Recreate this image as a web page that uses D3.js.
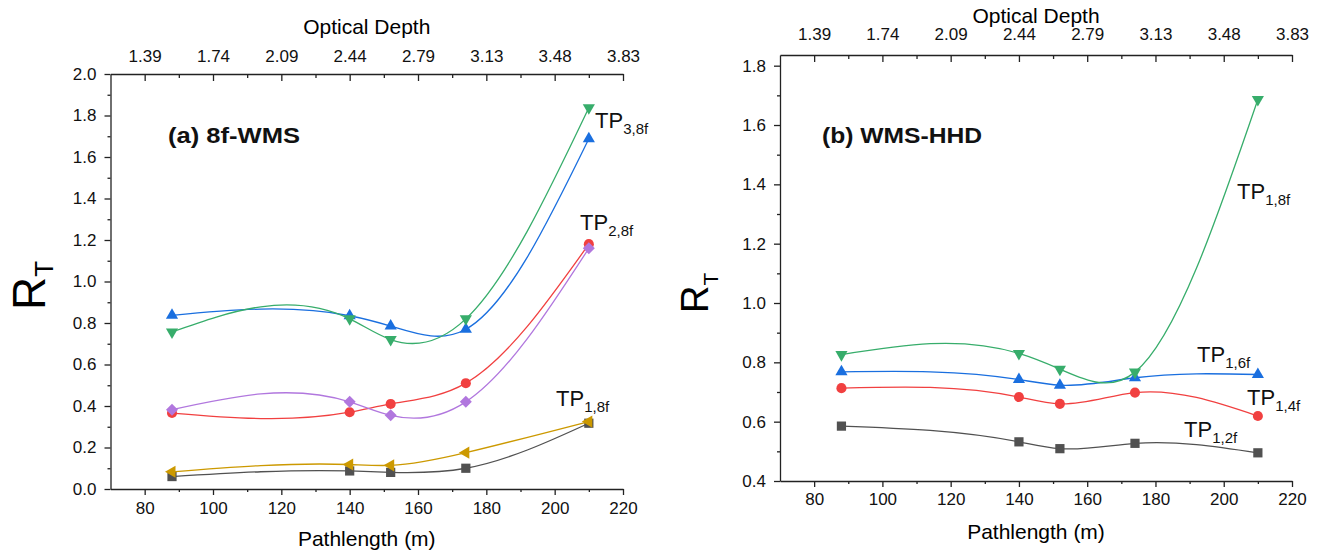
<!DOCTYPE html>
<meta charset="utf-8">
<style>
body { margin: 0; background: #fff; }
svg { display: block; font-family: "Liberation Sans", Arial, sans-serif; }
.axis path, .axis line { stroke: #222; stroke-width: 1.3; }
.axis text { font-size: 17px; fill: #111; font-family: "Liberation Sans", Arial, sans-serif; }
.title { font-weight: bold; font-size: 22px; fill: #111; }
.lbl { font-size: 22px; fill: #111; }
</style>
<body>
<svg width="1320" height="553"></svg>
<script src="https://cdn.jsdelivr.net/npm/d3@7/dist/d3.min.js"></script>
<script>
// pathlength (m) at each measurement
var pathlength = [88, 140, 152, 174, 210];

// optical depth labels on the top axis, placed at 80,100,...,220 m
var depthTicks = [80, 100, 120, 140, 160, 180, 200, 220];
var depthLabels = ["1.39", "1.74", "2.09", "2.44", "2.79", "3.13", "3.48", "3.83"];

// panel (a) 8f-WMS
var a_gray   = [0.060, 0.087, 0.080, 0.100, 0.317];
var a_red    = [0.366, 0.370, 0.410, 0.510, 1.180];
var a_blue   = [0.837, 0.835, 0.785, 0.770, 1.688];
var a_green  = [0.757, 0.820, 0.720, 0.820, 1.837];
var a_purple = [0.382, 0.420, 0.355, 0.420, 1.160];
var a_orange = [0.083, 0.118, 0.114, 0.175, 0.325];

// panel (b) WMS-HHD
var b_gray  = [0.585, 0.532, 0.509, 0.527, 0.495];
var b_red   = [0.713, 0.683, 0.660, 0.698, 0.619];
var b_blue  = [0.768, 0.742, 0.723, 0.748, 0.759];
var b_green = [0.826, 0.830, 0.777, 0.767, 1.686];

var colors = {gray: "#515151", red: "#F14040", blue: "#1A6FDF", green: "#37AD6B", purple: "#B177DE", orange: "#CC9900"};

var svg = d3.select("svg");

// natural cubic spline with y as a function of x (like Origin's spline connect)
function curveSplineX(context) {
  var xs, ys;
  return {
    areaStart: function() {}, areaEnd: function() {},
    lineStart: function() { xs = []; ys = []; },
    point: function(x, y) { xs.push(+x); ys.push(+y); },
    lineEnd: function() {
      var n = xs.length, i;
      if (!n) return;
      context.moveTo(xs[0], ys[0]);
      if (n < 3) { if (n == 2) context.lineTo(xs[1], ys[1]); return; }
      var h = [], a = [], b = [], c = [], r = [];
      for (i = 0; i < n - 1; i++) h.push(xs[i + 1] - xs[i]);
      for (i = 1; i < n - 1; i++) {
        a.push(h[i - 1]); b.push(2 * (h[i - 1] + h[i])); c.push(h[i]);
        r.push(6 * ((ys[i + 1] - ys[i]) / h[i] - (ys[i] - ys[i - 1]) / h[i - 1]));
      }
      var m = n - 2;
      for (i = 1; i < m; i++) {
        var w = a[i] / b[i - 1];
        b[i] -= w * c[i - 1];
        r[i] -= w * r[i - 1];
      }
      var M = new Array(n).fill(0);
      M[m] = r[m - 1] / b[m - 1];
      for (i = m - 2; i >= 0; i--) M[i + 1] = (r[i] - c[i] * M[i + 2]) / b[i];
      for (i = 0; i < n - 1; i++) {
        var s = (ys[i + 1] - ys[i]) / h[i];
        var d0 = s - h[i] * (2 * M[i] + M[i + 1]) / 6;
        var d1 = s + h[i] * (M[i] + 2 * M[i + 1]) / 6;
        context.bezierCurveTo(xs[i] + h[i] / 3, ys[i] + d0 * h[i] / 3,
                              xs[i + 1] - h[i] / 3, ys[i + 1] - d1 * h[i] / 3,
                              xs[i + 1], ys[i + 1]);
      }
    }
  };
}

function marker(shape) {
  if (shape == "square") return d3.symbol().type(d3.symbolSquare).size(85)();
  if (shape == "circle") return d3.symbol().type(d3.symbolCircle).size(80)();
  if (shape == "diamond") return d3.symbol().type(d3.symbolSquare).size(72)();
  return d3.symbol().type(d3.symbolTriangle).size(64)();
}
var rot = {square: 0, circle: 0, diamond: 45, up: 0, down: 180, left: -90};

function subLabel(g, x, y, main, sub) {
  var t = g.append("text").attr("class", "lbl").attr("x", x).attr("y", y);
  t.append("tspan").text(main);
  t.append("tspan").attr("dy", 6).style("font-size", "15px").text(sub);
}

function drawPanel(p) {
  var x = d3.scaleLinear().domain([70, 220]).range([p.left, p.right]);
  var y = d3.scaleLinear().domain(p.ydomain).range([p.bottom, p.top]);
  var g = svg.append("g");

  // bottom axis
  g.append("g").attr("class", "axis")
    .attr("transform", "translate(0," + p.bottom + ")")
    .call(d3.axisBottom(x).tickValues(d3.range(80, 221, 20)).tickSize(6).tickSizeOuter(0).tickPadding(p.bottomPad));
  g.append("g").attr("class", "axis")
    .attr("transform", "translate(0," + p.bottom + ")")
    .call(d3.axisBottom(x).tickValues(d3.range(90, 220, 20)).tickSize(3).tickFormat("").tickSizeOuter(0))
    .select("path").remove();

  // top axis, ticks pointing inward
  g.append("g").attr("class", "axis")
    .attr("transform", "translate(0," + p.top + ")")
    .call(d3.axisTop(x).tickValues(depthTicks).tickSize(-7).tickSizeOuter(0)
      .tickFormat(function(d, i) { return depthLabels[i]; }))
    .selectAll("text").attr("y", -p.topLabelGap);
  g.append("g").attr("class", "axis")
    .attr("transform", "translate(0," + p.top + ")")
    .call(d3.axisTop(x).tickValues(d3.range(90, 220, 20)).tickSize(-4).tickFormat("").tickSizeOuter(0))
    .select("path").remove();

  // left axis
  g.append("g").attr("class", "axis")
    .attr("transform", "translate(" + p.left + ",0)")
    .call(d3.axisLeft(y).tickValues(p.yticks).tickSize(6).tickSizeOuter(0).tickPadding(8).tickFormat(d3.format(".1f")));
  g.append("g").attr("class", "axis")
    .attr("transform", "translate(" + p.left + ",0)")
    .call(d3.axisLeft(y).tickValues(p.yminor).tickSize(3).tickFormat("").tickSizeOuter(0))
    .select("path").remove();

  // axis titles
  g.append("text").attr("x", (p.left + p.right) / 2).attr("y", p.topTitleY)
    .attr("text-anchor", "middle").style("font-size", "21px").text("Optical Depth");
  g.append("text").attr("x", (p.left + p.right) / 2).attr("y", p.bottomTitleY)
    .attr("text-anchor", "middle").style("font-size", "21px").text("Pathlength (m)");
  var rt = g.append("text")
    .attr("transform", "translate(" + p.rtX + "," + p.rtY + ") rotate(-90)");
  rt.append("tspan").style("font-size", p.rtSize + "px").text("R");
  rt.append("tspan").attr("dy", p.rtSub[1]).style("font-size", p.rtSub[0] + "px").text("T");

  g.append("text").attr("class", "title").attr("x", p.titleX).attr("y", p.titleY)
    .attr("textLength", p.titleW).attr("lengthAdjust", "spacingAndGlyphs").text(p.title);

  var line = d3.line()
    .x(function(d, i) { return x(pathlength[i]); })
    .y(function(d) { return y(d); })
    .curve(curveSplineX);

  p.series.forEach(function(s) {
    g.append("path").attr("d", line(s.values))
      .attr("fill", "none").attr("stroke", colors[s.color]).attr("stroke-width", 1.3);
    g.selectAll(null).data(s.values).enter().append("path")
      .attr("d", marker(s.shape))
      .attr("transform", function(d, i) {
        return "translate(" + x(pathlength[i]) + "," + y(d) + ") rotate(" + rot[s.shape] + ")";
      })
      .attr("fill", colors[s.color]);
  });

  p.labels.forEach(function(l) { subLabel(g, l[0], l[1], "TP", l[2]); });
}

drawPanel({
  left: 110.5, right: 623, top: 74, bottom: 489,
  ydomain: [0, 2], yticks: d3.range(0, 2.01, 0.2), yminor: d3.range(0.1, 2, 0.2),
  topLabelGap: 12, bottomPad: 7,
  topTitleY: 34, bottomTitleY: 546, rtX: 45, rtY: 310, rtSize: 46, rtSub: [26, 8],
  title: "(a) 8f-WMS", titleX: 168, titleY: 143, titleW: 132,
  series: [
    {values: a_gray, color: "gray", shape: "square"},
    {values: a_red, color: "red", shape: "circle"},
    {values: a_blue, color: "blue", shape: "up"},
    {values: a_green, color: "green", shape: "down"},
    {values: a_purple, color: "purple", shape: "diamond"},
    {values: a_orange, color: "orange", shape: "left"}
  ],
  labels: [[595, 128, "3,8f"], [580, 230, "2,8f"], [556, 406, "1,8f"]]
});

drawPanel({
  left: 780, right: 1292, top: 55, bottom: 481,
  ydomain: [0.4, 1.836], yticks: d3.range(0.4, 1.81, 0.2), yminor: d3.range(0.5, 1.8, 0.2),
  topLabelGap: 15, bottomPad: 6,
  topTitleY: 23, bottomTitleY: 539, rtX: 708, rtY: 313, rtSize: 38, rtSub: [21, 10],
  title: "(b) WMS-HHD", titleX: 822, titleY: 143, titleW: 160,
  series: [
    {values: b_gray, color: "gray", shape: "square"},
    {values: b_red, color: "red", shape: "circle"},
    {values: b_blue, color: "blue", shape: "up"},
    {values: b_green, color: "green", shape: "down"}
  ],
  labels: [[1237, 199, "1,8f"], [1197, 362, "1,6f"], [1247, 405, "1,4f"], [1184, 437, "1,2f"]]
});
</script>
</body>
